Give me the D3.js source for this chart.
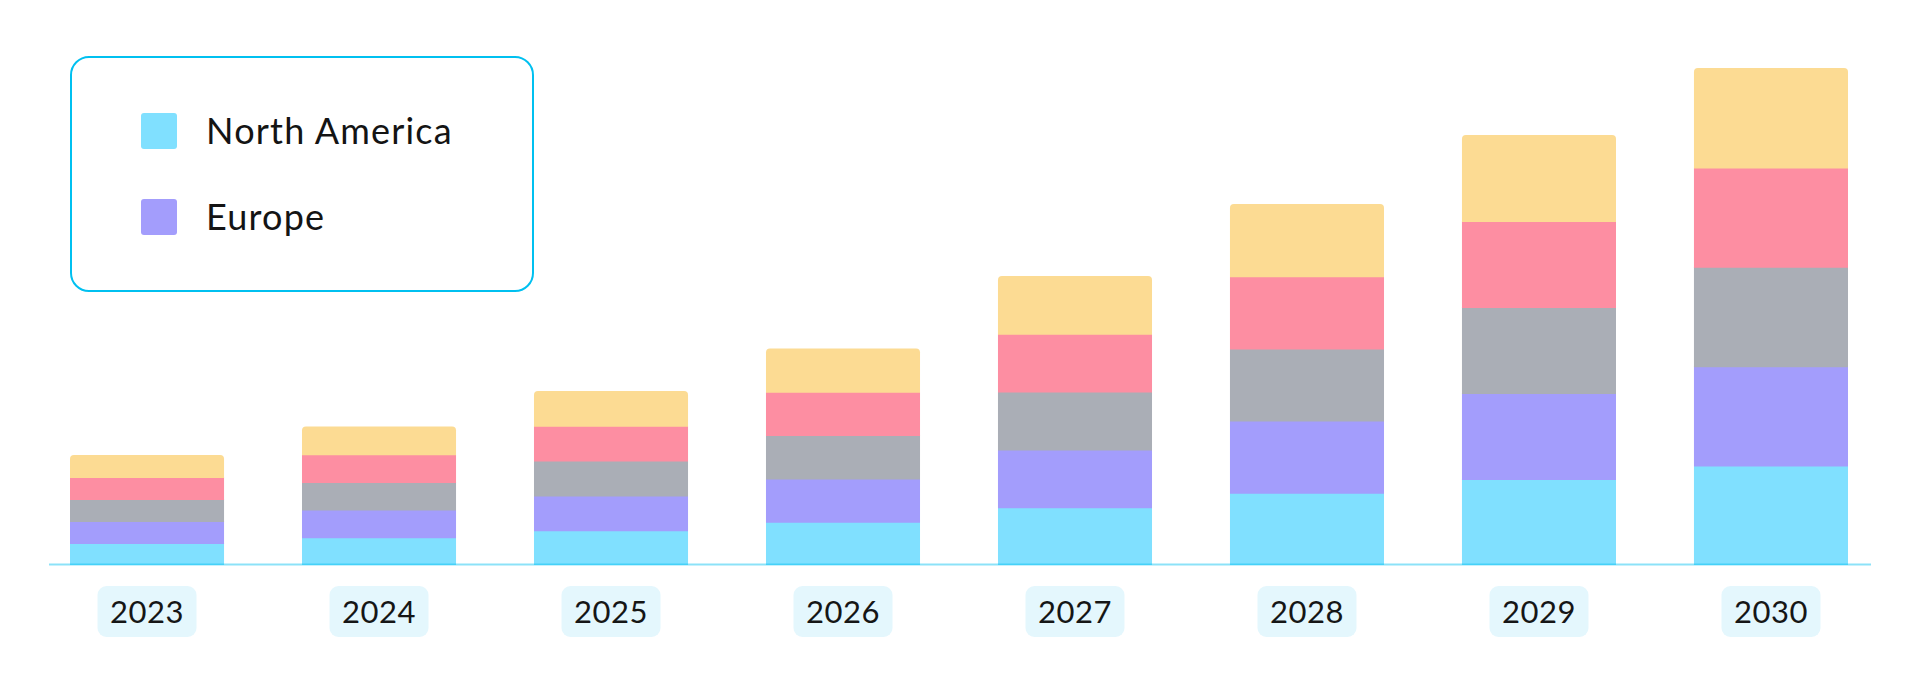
<!DOCTYPE html>
<html>
<head>
<meta charset="utf-8">
<script src="https://cdn.jsdelivr.net/npm/d3@7"></script>
<style>
  html, body { margin: 0; padding: 0; background: #ffffff; }
  svg { display: block; }
  text { font-family: Lato, "Noto Sans", sans-serif; }
</style>
</head>
<body>
<svg id="chart" width="1920" height="694"></svg>
<script>
const years = ["2023", "2024", "2025", "2026", "2027", "2028", "2029", "2030"];
const seriesNames = ["North America", "Europe", "Asia Pacific", "Latin America", "Middle East & Africa"];
const northAmerica = [2.2, 2.77, 3.48, 4.33, 5.78, 7.22, 8.6, 9.94];
const europe       = [2.2, 2.77, 3.48, 4.33, 5.78, 7.22, 8.6, 9.94];
const asiaPacific  = [2.2, 2.77, 3.48, 4.33, 5.78, 7.22, 8.6, 9.94];
const latinAmerica = [2.2, 2.77, 3.48, 4.33, 5.78, 7.22, 8.6, 9.94];
const middleEast   = [2.2, 2.77, 3.48, 4.33, 5.78, 7.22, 8.6, 9.94];
const legendShown = ["North America", "Europe"];
const colors = ["#80e0ff", "#a39dfc", "#aaaeb6", "#fd8ea2", "#fcdb93"];

const seriesValues = [northAmerica, europe, asiaPacific, latinAmerica, middleEast];
const table = years.map((y, i) => {
  const row = { year: y };
  seriesNames.forEach((s, j) => row[s] = seriesValues[j][i]);
  return row;
});

const svg = d3.select("#chart");
const baseY = 565;

const x = d3.scaleBand().domain(years).range([70, 1848]).paddingInner(0.336).paddingOuter(0);
const y = d3.scaleLinear().domain([0, 50]).range([baseY, 65]);
const color = d3.scaleOrdinal().domain(seriesNames).range(colors);

const stacked = d3.stack().keys(seriesNames)(table);
const firstKey = seriesNames[0];
const lastKey = seriesNames[seriesNames.length - 1];

function topRounded(x0, y0, w, h, r) {
  const p = d3.path();
  p.moveTo(x0, y0 + h);
  p.lineTo(x0, y0 + r);
  p.arcTo(x0, y0, x0 + r, y0, r);
  p.lineTo(x0 + w - r, y0);
  p.arcTo(x0 + w, y0, x0 + w, y0 + r, r);
  p.lineTo(x0 + w, y0 + h);
  p.closePath();
  return p.toString();
}

const layers = svg.append("g").selectAll("g").data(stacked).join("g")
  .attr("fill", d => color(d.key));

layers.selectAll("path").data(d => d.map(v => ({ key: d.key, v }))).join("path")
  .attr("d", d => {
    const x0 = x(d.v.data.year), w = x.bandwidth();
    const yTop = y(d.v[1]);
    // small overlap downward to avoid anti-aliasing seams between segments
    const h = y(d.v[0]) - y(d.v[1]) + (d.key === firstKey ? 0 : 1);
    const r = d.key === lastKey ? 4 : 0;
    return topRounded(x0, yTop, w, h, r);
  });

// axis baseline
svg.append("line")
  .attr("x1", 49).attr("x2", 1871)
  .attr("y1", baseY - 0.5).attr("y2", baseY - 0.5)
  .attr("stroke", "#00bff0").attr("stroke-opacity", 0.45).attr("stroke-width", 2);

// year labels as pills
const xAxis = d3.axisBottom(x).tickSize(0).tickPadding(0);
const axisG = svg.append("g").attr("transform", `translate(0,${baseY})`).call(xAxis);
axisG.select(".domain").remove();
axisG.selectAll(".tick").each(function() {
  const t = d3.select(this);
  t.insert("rect", "text")
    .attr("x", -49.5).attr("y", 21).attr("width", 99).attr("height", 51)
    .attr("rx", 9).attr("fill", "#e4f7fd");
  t.select("text")
    .attr("y", 57.5).attr("dy", null)
    .attr("fill", "#161616")
    .style("font-size", "31px")
    .style("font-family", "Lato, 'Noto Sans', sans-serif")
    .style("letter-spacing", "0.5px");
});

// legend
const lg = svg.append("g");
lg.append("rect")
  .attr("x", 71).attr("y", 57).attr("width", 462).attr("height", 234)
  .attr("rx", 18).attr("fill", "#ffffff")
  .attr("stroke", "#00c0f0").attr("stroke-width", 2);
const items = lg.selectAll("g.item").data(legendShown).join("g")
  .attr("class", "item")
  .attr("transform", (d, i) => `translate(141,${113 + i * 86})`);
items.append("rect").attr("width", 36).attr("height", 36).attr("rx", 3)
  .attr("fill", d => color(d));
items.append("text").attr("x", 65).attr("y", 30.5)
  .attr("fill", "#141414")
  .style("font-size", "36px")
  .style("letter-spacing", "1.2px")
  .text(d => d);
</script>
</body>
</html>
